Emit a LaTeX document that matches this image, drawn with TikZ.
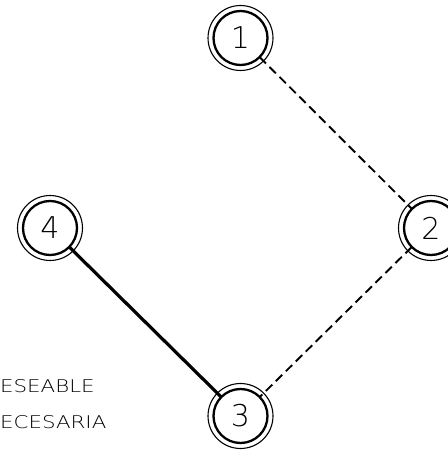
\documentclass[tikz,border=0pt]{standalone}
\usepackage{fontspec}
\setmainfont{Liberation Sans}
\newfontfamily\thinfont{DejaVu Sans ExtraLight}
\usepackage{tikz}
\usetikzlibrary{arrows.meta, positioning}

\begin{document}
\begin{tikzpicture}[x=1pt, y=1pt]

  \tikzset{
    station/.style={circle, draw, line width=2.3pt, minimum size=54pt,
      inner sep=0pt, outer sep=0pt,
      font=\thinfont\fontsize{30}{30}\selectfont},
    ring/.style={line width=1.1pt},
    wishlink/.style={line width=1.9pt, dash pattern=on 9pt off 5pt},
    needlink/.style={line width=3.2pt},
    legend/.style={anchor=base west, inner sep=0pt,
      font=\thinfont\fontsize{17.5}{17.5}\selectfont}
  }

  \clip (0, 0) rectangle (448, 451);
  \useasboundingbox (0, 0) rectangle (448, 451);

  \node[station] (s1) at (240.5, 413) {1};
  \node[station] (s2) at (431, 223) {2};
  \node[station] (s3) at (240.5, 35) {3};
  \node[station] (s4) at (50, 223) {4};

  \foreach \s in {s1, s2, s3, s4}
    \draw[ring] (\s.center) circle[radius=32.5];

  \draw[wishlink] (s1) -- (s2);
  \draw[wishlink] (s2) -- (s3);
  \draw[needlink] (s4) -- (s3);

  \node[legend] (wish) at (0, 59) {\scalebox{1.22}[1]{ESEABLE}};
  \node[legend] (need) at (0, 23) {\scalebox{1.22}[1]{ECESARIA}};

\end{tikzpicture}
\end{document}
